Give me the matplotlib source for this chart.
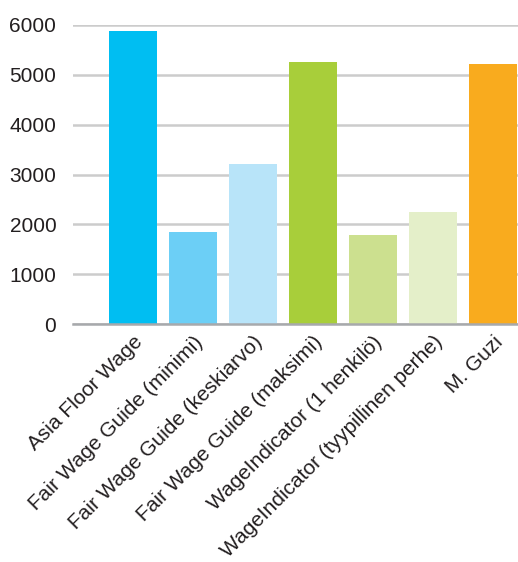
import numpy as np
import matplotlib.pyplot as plt

plt.rcParams['font.family'] = ['Liberation Sans', 'DejaVu Sans']

# values (monthly living wage estimates)
categories = ["Asia Floor Wage",
              "Fair Wage Guide (minimi)",
              "Fair Wage Guide (keskiarvo)",
              "Fair Wage Guide (maksimi)",
              "WageIndicator (1 henkilö)",
              "WageIndicator (tyypillinen perhe)",
              "M. Guzi"]
values = [5880, 1850, 3210, 5260, 1790, 2250, 5220]
colors = ["#00BEF2", "#6CCFF6", "#B8E4F9", "#A8CE3A", "#CCE08F", "#E4EFC9", "#F9AB1E"]
yticks = [0, 1000, 2000, 3000, 4000, 5000, 6000]

fig = plt.figure(figsize=(5.18, 5.62), dpi=100)
ax = fig.add_axes([73 / 518, 238 / 562, 1.0, (324 - 25) / 562])

x = np.arange(len(categories))
ax.bar(x, values, width=0.8, color=colors, zorder=3)

ax.set_ylim(0, 6000)
ax.set_xlim(-1, -1 + 518 / 60 * 1.0)
ax.set_yticks(yticks)
ax.set_yticklabels([str(v) for v in yticks], fontsize=15, color="#231f20")
ax.yaxis.grid(True, color="#cccccc", linewidth=1.8, zorder=0)
ax.tick_params(axis='y', length=0, pad=12)
ax.tick_params(axis='x', length=0, pad=6)

for s in ['top', 'right', 'left']:
    ax.spines[s].set_visible(False)
ax.spines['bottom'].set_color("#a7a9ac")
ax.spines['bottom'].set_linewidth(1.8)
ax.spines['bottom'].set_zorder(4)

ax.set_xticks(x)
ax.set_xticklabels(categories, rotation=45, ha='right', rotation_mode='anchor',
                   fontsize=15, color="#231f20")

fig.savefig("out.png", dpi=100)
